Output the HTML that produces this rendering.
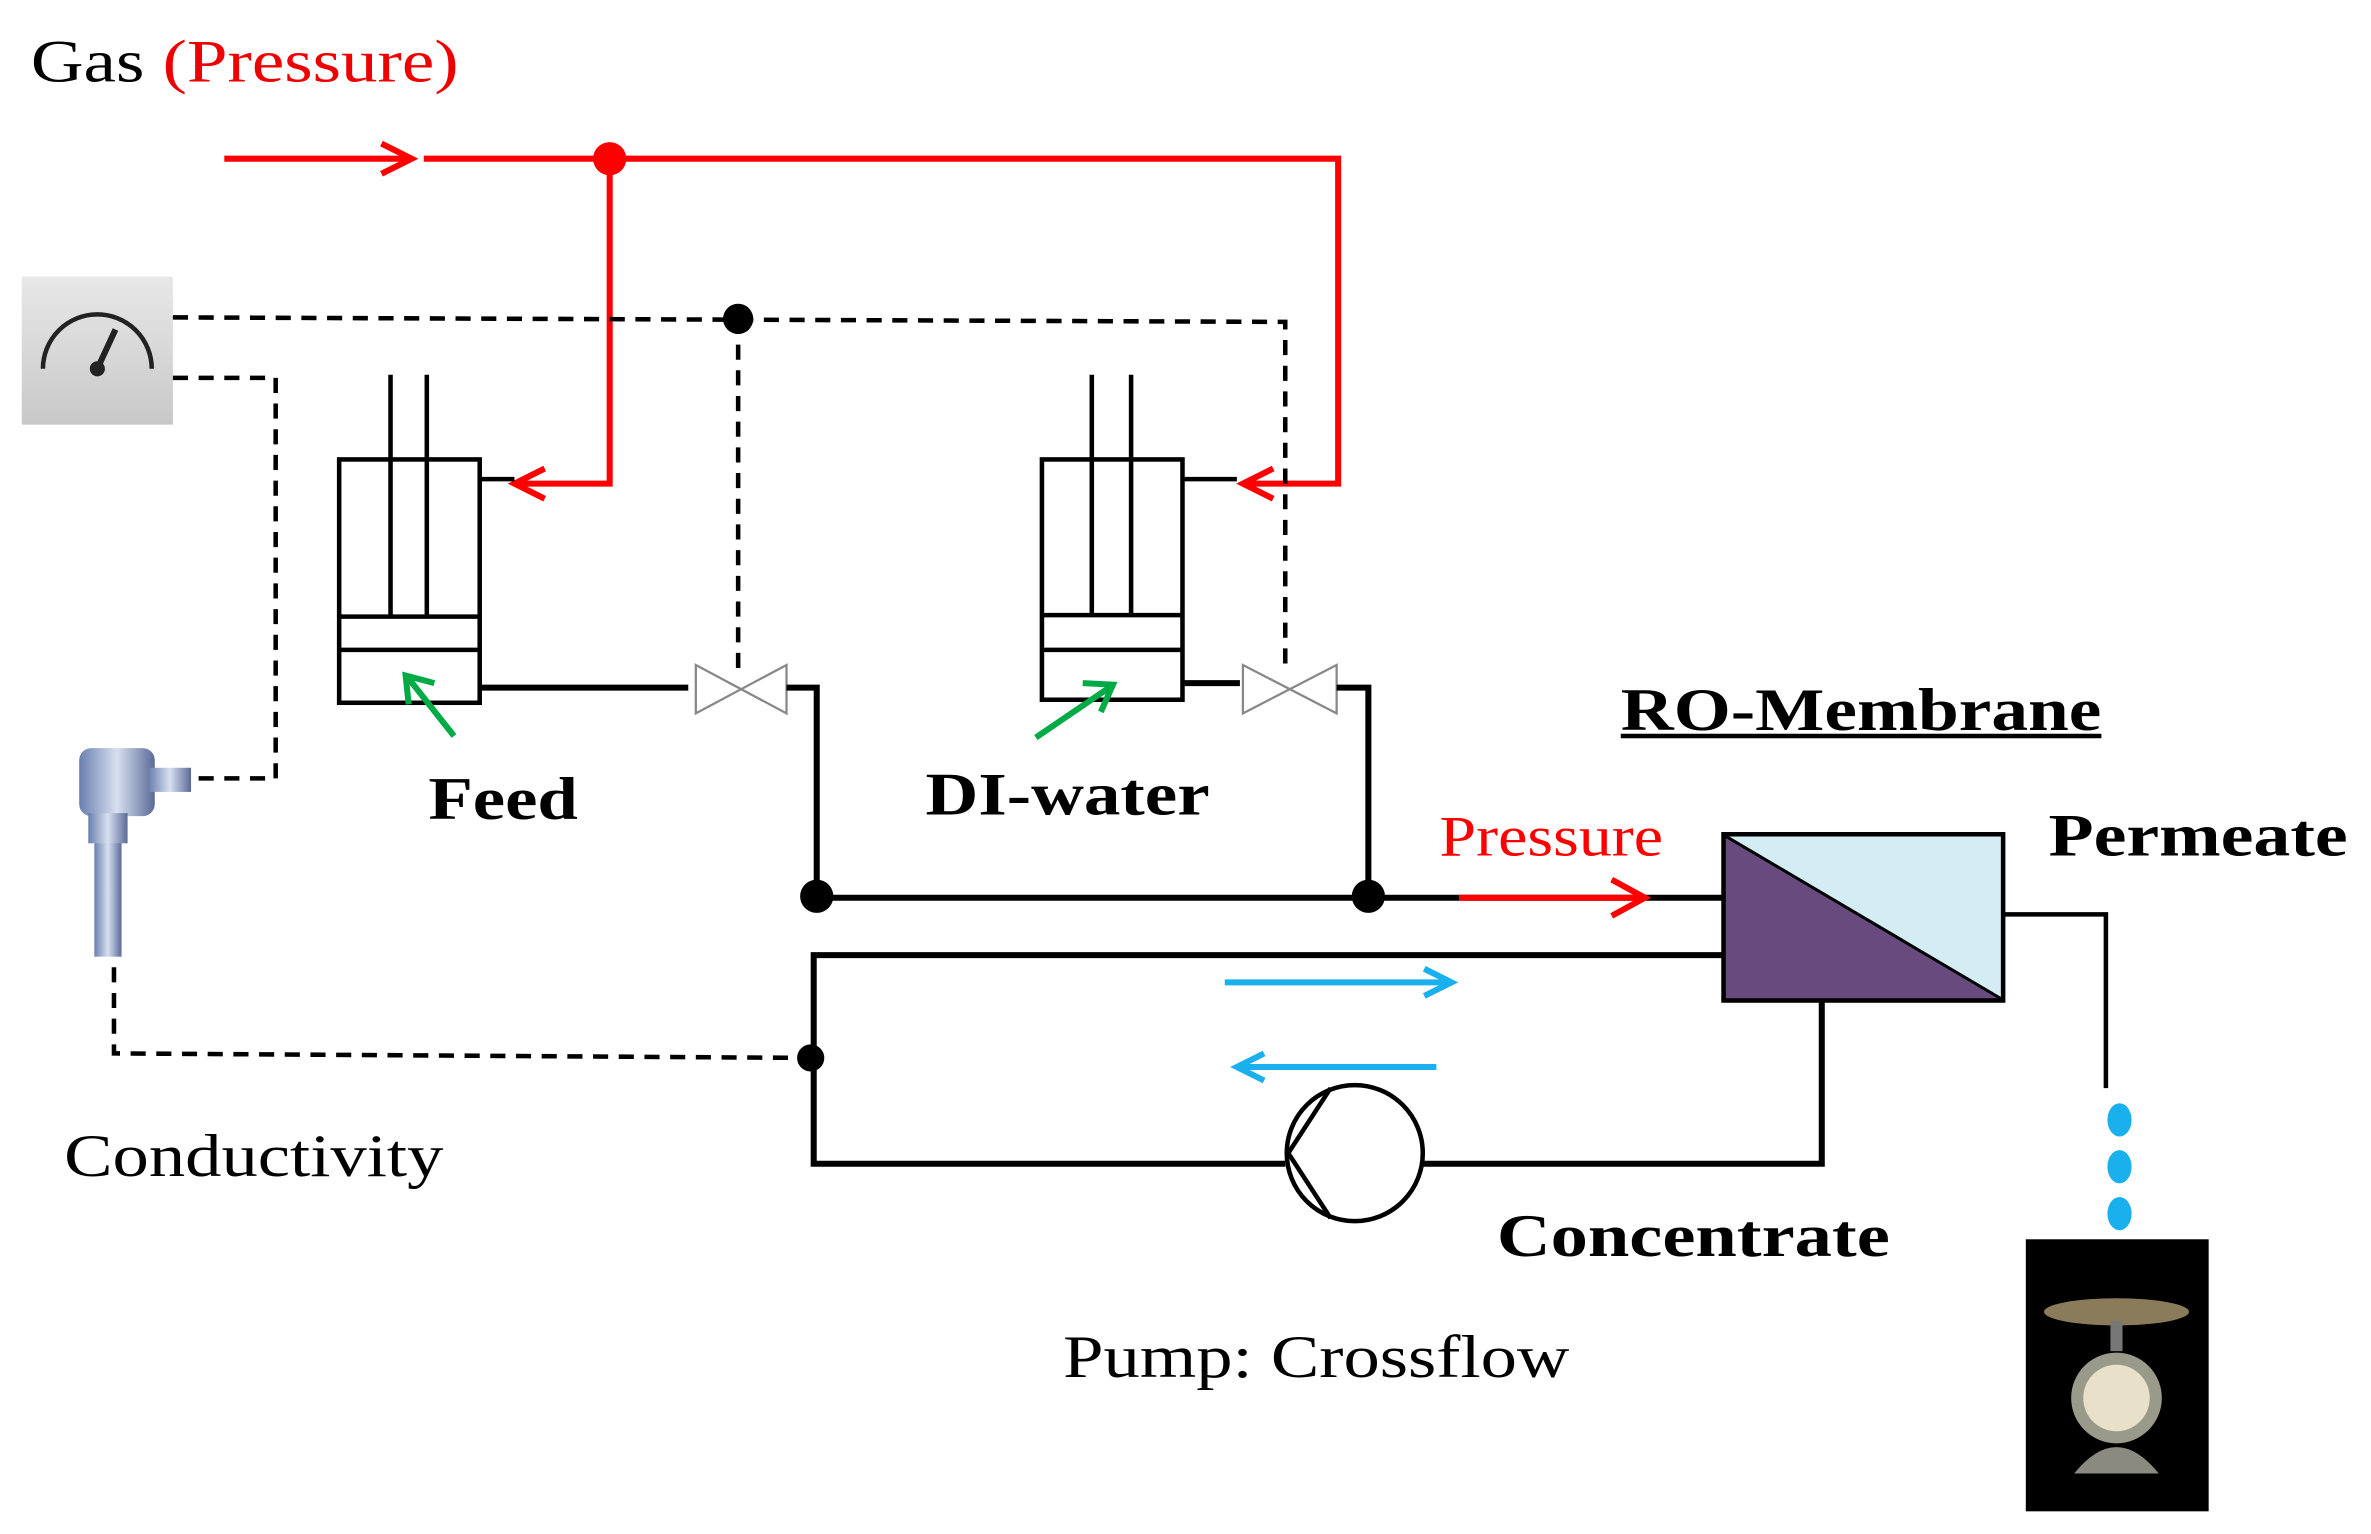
<!DOCTYPE html>
<html><head><meta charset="utf-8"><style>
html,body{margin:0;padding:0;background:#fff;}
svg{display:block;}
text{font-family:"Liberation Serif",serif;}
</style></head><body>
<svg width="2371" height="1534" viewBox="0 0 1568 1015" xmlns="http://www.w3.org/2000/svg">
<defs>
<linearGradient id="gg" x1="0" y1="0" x2="0" y2="1"><stop offset="0" stop-color="#e8e8e8"/><stop offset="1" stop-color="#c8c8c8"/></linearGradient>
<linearGradient id="pr" x1="0" y1="0" x2="1" y2="0"><stop offset="0" stop-color="#6a7fb0"/><stop offset="0.5" stop-color="#d8e0f0"/><stop offset="1" stop-color="#5a6a98"/></linearGradient>
</defs>
<rect width="1568" height="1015" fill="#fff"/>
<text x="20" y="54" font-size="40" fill="#000" textLength="283" lengthAdjust="spacingAndGlyphs">Gas <tspan fill="#e00">(Pressure)</tspan></text>

<g stroke="#f00" stroke-width="4" fill="none">
<line x1="148" y1="105" x2="272" y2="105"/>
<polyline points="252,95 272,105 252,115"/>
<polyline points="280,105 885,105 885,320 822,320"/>
<polyline points="842,310 822,320 842,330"/>
<polyline points="403,105 403,320 340,320"/>
<polyline points="360,310 340,320 360,330"/>
</g>
<circle cx="403" cy="105" r="11" fill="#f00"/>

<rect x="14" y="183" width="100" height="98" fill="url(#gg)"/>
<path d="M28,244 A36,36 0 0 1 100,244" stroke="#222" stroke-width="3" fill="none"/>
<line x1="64" y1="244" x2="76" y2="218" stroke="#222" stroke-width="4"/>
<circle cx="64" cy="244" r="5" fill="#222"/>

<g stroke="#000" stroke-width="3" fill="none" stroke-dasharray="10,7">
<polyline points="114,210 850,213 850,445"/>
<line x1="488" y1="211" x2="488" y2="445"/>
<polyline points="114,250 182,250 182,515 125,515"/>
<polyline points="75,640 75,697 535,700"/>
</g>
<circle cx="488" cy="211" r="10" fill="#000"/>

<g stroke="#000" stroke-width="3" fill="none">
<rect x="224" y="304" width="93" height="161"/>
<line x1="224" y1="408" x2="317" y2="408"/><line x1="224" y1="430" x2="317" y2="430"/>
<line x1="258" y1="248" x2="258" y2="408"/><line x1="282" y1="248" x2="282" y2="408"/>
<line x1="317" y1="317" x2="340" y2="317"/>
<line x1="317" y1="455" x2="455" y2="455" stroke-width="4"/>
<rect x="689" y="304" width="93" height="159"/>
<line x1="689" y1="407" x2="782" y2="407"/><line x1="689" y1="430" x2="782" y2="430"/>
<line x1="722" y1="248" x2="722" y2="407"/><line x1="748" y1="248" x2="748" y2="407"/>
<line x1="782" y1="317" x2="818" y2="317"/>
<line x1="782" y1="452" x2="820" y2="452" stroke-width="4"/>
</g>
<g stroke="#888" stroke-width="1.5" fill="#fff">
<polygon points="460,440 520,472 520,440 460,472"/>
<polygon points="822,440 884,472 884,440 822,472"/>
</g>
<g stroke="#000" stroke-width="4" fill="none">
<polyline points="520,455 540,455 540,593"/>
<polyline points="884,455 905,455 905,593"/>
<line x1="540" y1="594" x2="1140" y2="594"/>
<polyline points="1140,632 538,632 538,770 850,770"/>
<polyline points="940,770 1205,770 1205,662"/>
</g>
<g stroke="#f00" stroke-width="4" fill="none">
<line x1="965" y1="594" x2="1088" y2="594"/>
<polyline points="1066,582 1088,594 1066,606"/>
</g>
<circle cx="540" cy="593" r="11" fill="#000"/>
<circle cx="905" cy="593" r="11" fill="#000"/>
<circle cx="536" cy="700" r="9" fill="#000"/>
<circle cx="896" cy="763" r="45" stroke="#000" stroke-width="3" fill="#fff"/>
<polyline points="880,720 852,763 880,806" stroke="#000" stroke-width="3" fill="none"/>

<g stroke="#0a4" stroke-width="4" fill="none">
<line x1="300" y1="487" x2="270" y2="449"/><polyline points="270,466 268,447 287,452"/>
<line x1="685" y1="488" x2="735" y2="454"/><polyline points="716,452 736,453 728,471"/>
</g>
<g stroke="#1ab0ee" stroke-width="4" fill="none">
<line x1="810" y1="650" x2="960" y2="650"/><polyline points="942,641 960,650 942,659"/>
<line x1="950" y1="706" x2="818" y2="706"/><polyline points="836,697 818,706 836,715"/>
</g>

<rect x="1140" y="552" width="185" height="110" fill="#d4ecf4"/>
<polygon points="1141,553 1324,661 1141,661" fill="#684a7e"/>
<line x1="1141" y1="553" x2="1324" y2="661" stroke="#000" stroke-width="2"/>
<rect x="1140" y="552" width="185" height="110" fill="none" stroke="#000" stroke-width="3"/>
<polyline points="1325,605 1393,605 1393,720" stroke="#000" stroke-width="3" fill="none"/>
<g fill="#1ab0ee"><ellipse cx="1402" cy="741" rx="8" ry="11"/><ellipse cx="1402" cy="772" rx="8" ry="11"/><ellipse cx="1402" cy="803" rx="8" ry="11"/></g>

<rect x="1340" y="820" width="121" height="180" fill="#000"/>
<ellipse cx="1400" cy="868" rx="48" ry="9" fill="#8a7c5a"/>
<rect x="1396" y="874" width="8" height="20" fill="#777"/>
<circle cx="1400" cy="925" r="30" fill="#9a9a8a"/>
<circle cx="1400" cy="925" r="22" fill="#e8e0c8"/>
<path d="M1372,975 Q1400,940 1428,975 Z" fill="#8a8a80"/>

<rect x="62" y="555" width="18" height="78" fill="url(#pr)"/>
<rect x="52" y="495" width="50" height="45" rx="8" fill="url(#pr)"/>
<rect x="98" y="508" width="28" height="16" fill="url(#pr)"/>
<rect x="58" y="538" width="26" height="20" fill="url(#pr)"/>

<text x="1072" y="483" font-size="40" font-weight="bold" textLength="318" lengthAdjust="spacingAndGlyphs">RO-Membrane</text>
<line x1="1072" y1="487" x2="1390" y2="487" stroke="#000" stroke-width="3"/>
<text x="1355" y="566" font-size="40" font-weight="bold" textLength="198" lengthAdjust="spacingAndGlyphs">Permeate</text>
<text x="283" y="542" font-size="40" font-weight="bold" textLength="99" lengthAdjust="spacingAndGlyphs">Feed</text>
<text x="612" y="539" font-size="40" font-weight="bold" textLength="188" lengthAdjust="spacingAndGlyphs">DI-water</text>
<text x="952" y="566" font-size="38" fill="#f00" textLength="148" lengthAdjust="spacingAndGlyphs">Pressure</text>
<text x="42" y="778" font-size="40" textLength="251" lengthAdjust="spacingAndGlyphs">Conductivity</text>
<text x="990" y="831" font-size="40" font-weight="bold" textLength="260" lengthAdjust="spacingAndGlyphs">Concentrate</text>
<text x="703" y="911" font-size="40" textLength="335" lengthAdjust="spacingAndGlyphs">Pump: Crossflow</text>
</svg>
</body></html>
